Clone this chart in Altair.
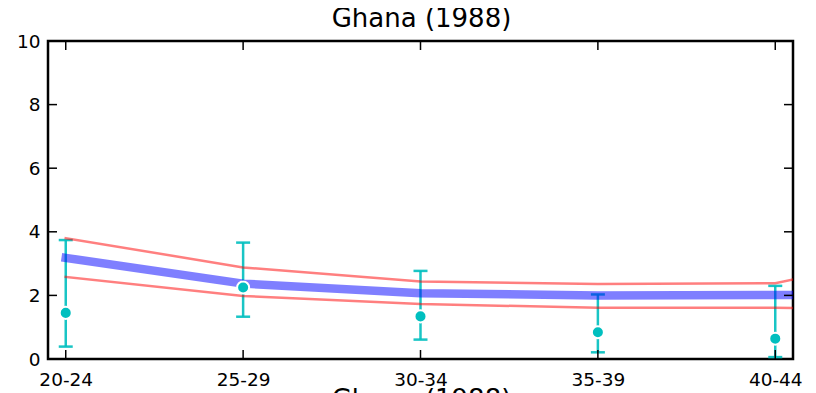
import altair as alt
import pandas as pd

chart_title = "Ghana (1988)"
age_groups = ["20-24", "25-29", "30-34", "35-39", "40-44"]
model_ages = ["20-24", "25-29", "30-34", "35-39", "40-44", "45-49"]
model_upper = [3.80, 2.88, 2.44, 2.36, 2.38, 3.60]
model_mean = [3.18, 2.37, 2.07, 2.00, 2.01, 2.02]
model_lower = [2.58, 1.98, 1.73, 1.61, 1.61, 1.58]
obs_value = [1.45, 2.25, 1.34, 0.84, 0.64]
obs_high = [3.74, 3.66, 2.77, 2.03, 2.30]
obs_low = [0.39, 1.33, 0.61, 0.21, 0.06]
y_ticks = [0, 2, 4, 6, 8, 10]

W, H = 745, 318
FONT = "DejaVu Sans"
CYAN = "#00bfbf"

lines_df = pd.DataFrame({
    "i": list(range(len(model_ages))),
    "age": model_ages,
    "upper": model_upper,
    "mean": model_mean,
    "lower": model_lower,
})
obs_df = pd.DataFrame({
    "i": list(range(len(age_groups))),
    "age": age_groups,
    "obs": obs_value,
    "hi": obs_high,
    "lo": obs_low,
})
ytick_df = pd.DataFrame({"v": y_ticks})
xtick_df = pd.DataFrame({"i": list(range(len(age_groups)))})
text_df = pd.DataFrame({"t": [chart_title]})

label_expr = "[" + ",".join(f"'{a}'" for a in age_groups) + "][datum.value]"
xscale = alt.Scale(domain=[-0.1, len(age_groups) - 0.9], nice=False, zero=False)
yscale = alt.Scale(domain=[0, 10], nice=False, zero=False)

xaxis = alt.Axis(values=list(range(len(age_groups))), labelExpr=label_expr,
                 labelPadding=11, labelFlush=False)
yaxis = alt.Axis(values=y_ticks, labelPadding=8, labelFlush=False)


def X(field):
    return alt.X(field, type="quantitative", scale=xscale, title=None)


def Y(field):
    return alt.Y(field, type="quantitative", scale=yscale, title=None)


err = alt.Chart(obs_df).mark_rule(color=CYAN, strokeWidth=2.5, opacity=0.9).encode(
    x=alt.X("i:Q", scale=xscale, axis=xaxis, title=None),
    y=alt.Y("lo:Q", scale=yscale, axis=yaxis, title=None),
    y2="hi:Q",
)
cap_hi = alt.Chart(obs_df).mark_rule(color=CYAN, strokeWidth=2.5, opacity=0.9,
                                     xOffset=-7, x2Offset=7).encode(
    x=X("i"), x2="i:Q", y=Y("hi"))
cap_lo = alt.Chart(obs_df).mark_rule(color=CYAN, strokeWidth=2.5, opacity=0.9,
                                     xOffset=-7, x2Offset=7).encode(
    x=X("i"), x2="i:Q", y=Y("lo"))

upper = alt.Chart(lines_df).mark_line(color="red", opacity=0.5, strokeWidth=2.5,
                                      clip=True, strokeCap="square").encode(
    x=X("i"), y=Y("upper"))
lower = alt.Chart(lines_df).mark_line(color="red", opacity=0.5, strokeWidth=2.5,
                                      clip=True, strokeCap="square").encode(
    x=X("i"), y=Y("lower"))
mean = alt.Chart(lines_df).mark_line(color="blue", opacity=0.5, strokeWidth=8.5,
                                     clip=True, strokeCap="square").encode(
    x=X("i"), y=Y("mean"))

points = alt.Chart(obs_df).mark_circle(size=145, color=CYAN, opacity=1,
                                       stroke="white", strokeWidth=2).encode(
    x=X("i"), y=Y("obs"))

tick_style = dict(color="black", strokeWidth=1.5)
left_ticks = alt.Chart(ytick_df).mark_rule(**tick_style).encode(
    y=Y("v"), x=alt.value(0), x2=alt.value(9))
right_ticks = alt.Chart(ytick_df).mark_rule(**tick_style).encode(
    y=Y("v"), x=alt.value(W - 9), x2=alt.value(W))
bottom_ticks = alt.Chart(xtick_df).mark_rule(**tick_style).encode(
    x=X("i"), y=alt.value(H - 9), y2=alt.value(H))
top_ticks = alt.Chart(xtick_df).mark_rule(**tick_style).encode(
    x=X("i"), y=alt.value(0), y2=alt.value(9))

title_text = alt.Chart(text_df).mark_text(font=FONT, fontSize=26, baseline="alphabetic",
                                          align="center", color="black").encode(
    x=alt.value(W / 2 + 1), y=alt.value(-14), text="t:N")
next_title = alt.Chart(text_df).mark_text(font=FONT, fontSize=26, baseline="alphabetic",
                                          align="center", color="black").encode(
    x=alt.value(W / 2 + 1), y=alt.value(H + 49), text="t:N")

chart = alt.layer(
    err, cap_hi, cap_lo, upper, lower, mean, points,
    left_ticks, right_ticks, bottom_ticks, top_ticks, title_text, next_title,
).properties(
    width=W, height=H,
    autosize=alt.AutoSizeParams(type="none"),
    padding={"left": 40, "top": 33, "right": 15, "bottom": 60},
).configure_view(
    stroke="black", strokeWidth=2.5,
).configure_axis(
    ticks=False, domain=False, grid=False,
    labelFont=FONT, labelFontSize=18.5, labelColor="black",
)

chart.save("out.html", embed_options={"renderer": "svg", "actions": False})
